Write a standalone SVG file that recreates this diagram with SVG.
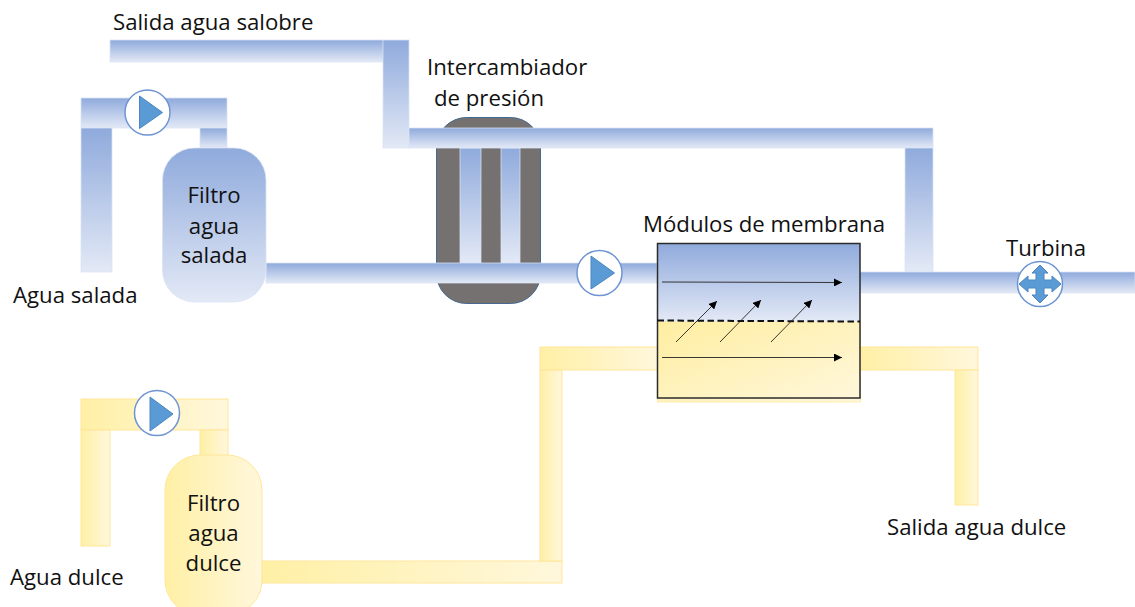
<svg xmlns="http://www.w3.org/2000/svg" width="1135" height="607" viewBox="0 0 1135 607">
<style>
text{font-family:"Open Sans","Noto Sans","Liberation Sans",sans-serif;font-size:22.2px;fill:#111}
.m{text-anchor:middle}
.b{fill:url(#bv);stroke:#dae3f3;stroke-width:.75}
.y{fill:url(#yh);stroke:#ffe699;stroke-width:1}
.c{fill:#fff;stroke:#6f94d2;stroke-width:1.5}
.t{fill:#5b9bd5;stroke:#4a86c0;stroke-width:1}
.a{stroke:#222;stroke-width:.9;fill:none;marker-end:url(#ah)}
</style>
<defs>
<linearGradient id="bv" x1="0" y1="0" x2="0" y2="1"><stop offset="0" stop-color="#8faadc"/><stop offset="1" stop-color="#e3e9f6"/></linearGradient>
<linearGradient id="yh" x1="0" y1="0" x2="1" y2="0"><stop offset="0" stop-color="#fff0a5"/><stop offset="1" stop-color="#fff7dc"/></linearGradient>
<linearGradient id="yd" x1="0" y1="0" x2="1" y2="1"><stop offset="0" stop-color="#ffeea0"/><stop offset="1" stop-color="#fff7dc"/></linearGradient>
<marker id="ah" markerUnits="userSpaceOnUse" markerWidth="9" markerHeight="8" refX="8" refY="4" orient="auto"><path d="M0 0L8 4L0 8Z" fill="#000"/></marker>
</defs>
<g id="intercambiador">
<rect x="436.500" y="117.500" width="104" height="186" rx="30" fill="#767171" stroke="#44688f" stroke-width="1"/>
<rect class="b" x="460" y="148" width="21" height="115"/>
<rect class="b" x="501" y="148" width="19" height="115"/>
</g>
<g id="conectores">
<rect class="b" x="110" y="40" width="274" height="22"/>
<rect class="b" x="383" y="40" width="26" height="108"/>
<rect class="b" x="409" y="128" width="524" height="20"/>
<rect class="b" x="905" y="148" width="28" height="124"/>
<rect class="b" x="859" y="272" width="276" height="21"/>
<rect class="b" x="81" y="98" width="146" height="30"/>
<rect class="b" x="81" y="128" width="31" height="144"/>
<rect class="b" x="200" y="128" width="27" height="20"/>
<rect class="b" x="266" y="263" width="391" height="20"/>
<rect class="y" x="81" y="399" width="147" height="31"/>
<rect class="y" x="81" y="430" width="29" height="116"/>
<rect class="y" x="200" y="430" width="28" height="26"/>
<rect class="y" x="262" y="561" width="300" height="22"/>
<rect class="y" x="540" y="370" width="22" height="191"/>
<rect class="y" x="540" y="347" width="117.500" height="23"/>
<rect class="y" x="860" y="347" width="118" height="23"/>
<rect class="y" x="955" y="370" width="23" height="135"/>
</g>
<g id="filtro-salada">
<rect x="162.500" y="148" width="103.500" height="154" rx="32" fill="url(#bv)" stroke="#dae3f3" stroke-width=".75"/>
<text class="m" x="214" y="203">Filtro</text>
<text class="m" x="214" y="234">agua</text>
<text class="m" x="214" y="263">salada</text>
</g>
<g id="filtro-dulce">
<rect class="y" x="165" y="455" width="97" height="160" rx="35"/>
<text class="m" x="213.500" y="511">Filtro</text>
<text class="m" x="213.500" y="541">agua</text>
<text class="m" x="213.500" y="571">dulce</text>
</g>
<g id="bomba-1"><circle class="c" cx="147.500" cy="112.500" r="22.500"/><path class="t" d="M139.500 96V128.500L162.500 112.500Z"/></g>
<g id="bomba-2"><circle class="c" cx="599.500" cy="273" r="22.500"/><path class="t" d="M591 256V289L614.500 273Z"/></g>
<g id="bomba-3"><circle class="c" cx="157" cy="413" r="22.500"/><path class="t" d="M150 397V431L173 414Z"/></g>
<g id="turbina">
<circle class="c" cx="1040" cy="284" r="22.500"/>
<path class="t" d="M1040 265L1048 273H1044V280H1052V276L1061 284L1052 292V288H1044V295H1048L1040 303L1032 295H1036V288H1028V292L1019 284L1028 276V280H1036V273H1032Z"/>
</g>
<g id="modulos">
<rect x="657.500" y="321" width="203" height="81" fill="url(#yd)" stroke="#ffe699" stroke-width=".75"/>
<rect x="657.500" y="243.500" width="202.500" height="78" fill="url(#bv)"/>
<rect x="657.500" y="243.500" width="202.500" height="154.500" fill="none" stroke="#2b2b2b" stroke-width="1.500"/>
<line x1="657.500" y1="320.500" x2="860" y2="321.500" stroke="#111" stroke-width="2" stroke-dasharray="6.500 3.500"/>
</g>
<g id="flechas">
<line class="a" x1="662" y1="282" x2="842" y2="282.500"/>
<line class="a" x1="662" y1="357.500" x2="842" y2="357.500"/>
<line class="a" x1="676" y1="342" x2="717" y2="301"/>
<line class="a" x1="720" y1="342" x2="761" y2="300"/>
<line class="a" x1="771" y1="342" x2="812" y2="300"/>
</g>
<g id="etiquetas">
<text x="113" y="30">Salida agua salobre</text>
<text x="427" y="75">Intercambiador</text>
<text x="434" y="106">de presión</text>
<text x="13" y="303">Agua salada</text>
<text x="10" y="585">Agua dulce</text>
<text x="643" y="232">Módulos de membrana</text>
<text x="1006" y="256">Turbina</text>
<text x="887" y="535">Salida agua dulce</text>
</g>
</svg>
